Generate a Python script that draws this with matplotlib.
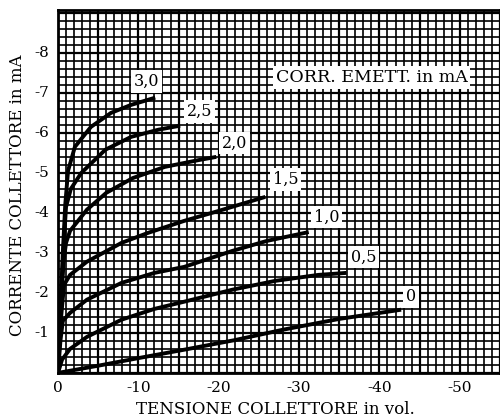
import matplotlib
matplotlib.use("Agg")
import matplotlib.pyplot as plt
from matplotlib.ticker import MultipleLocator

plt.rcParams["font.family"] = ["DejaVu Serif"]

# emitter current (mA) -> collector characteristic (V_ce in V, I_c in mA)
labels = ["3,0", "2,5", "2,0", "1,5", "1,0", "0,5", "0"]
v30 = [0, -0.3, -0.6, -0.9, -1.25, -2.1, -4.1, -6.6, -9.1, -12.1]
i30 = [0, -1.5, -3.0, -4.2, -5.05, -5.65, -6.15, -6.5, -6.7, -6.88]
v25 = [0, -0.4, -0.8, -1.0, -1.6, -2.9, -5.9, -9.1, -12.5, -15.2]
i25 = [0, -2.0, -3.5, -4.15, -4.6, -5.0, -5.58, -5.9, -6.08, -6.18]
v20 = [0, -0.4, -0.7, -1.0, -1.5, -3.6, -6.0, -9.3, -13.3, -17.5, -19.7]
i20 = [0, -1.8, -2.8, -3.25, -3.55, -4.08, -4.5, -4.87, -5.15, -5.32, -5.4]
v15 = [0, -0.3, -0.75, -1.5, -3.6, -7.9, -11.2, -15.7, -20.0, -25.8]
i15 = [0, -1.2, -2.2, -2.45, -2.78, -3.25, -3.5, -3.8, -4.05, -4.4]
v10 = [0, -0.3, -0.6, -1.5, -3.6, -7.9, -12.0, -15.7, -21.7, -26.0, -31.2]
i10 = [0, -0.8, -1.3, -1.5, -1.83, -2.25, -2.5, -2.65, -3.05, -3.3, -3.52]
v05 = [0, -0.5, -1.5, -3.6, -7.9, -12.0, -15.7, -21.7, -27.0, -32.4, -35.9]
i05 = [0, -0.33, -0.6, -0.9, -1.33, -1.6, -1.78, -2.08, -2.3, -2.45, -2.5]
v00 = [0, -5.0, -10.0, -15.7, -22.0, -28.0, -35.0, -42.7]
i00 = [0, -0.18, -0.37, -0.58, -0.82, -1.08, -1.35, -1.58]
# label anchor points (V, mA)
lab_v = [-11.0, -17.6, -22.0, -28.3, -33.4, -38.0, -43.9]
lab_i = [-7.28, -6.53, -5.75, -4.83, -3.9, -2.9, -1.9]

xticks = [0, -10, -20, -30, -40, -50]
yticks = [-1, -2, -3, -4, -5, -6, -7, -8]

fig = plt.figure(figsize=(5.0, 4.19), dpi=100)
ax = fig.add_axes([0.116, 0.11, 0.884, 0.866])
ax.set_xlim(0, -55)
ax.set_ylim(0, -9.07)

ax.xaxis.set_minor_locator(MultipleLocator(1))
ax.yaxis.set_minor_locator(MultipleLocator(0.2))
ax.grid(True, which="minor", color="black", lw=1.2)
ax.xaxis.set_major_locator(MultipleLocator(5))
ax.yaxis.set_major_locator(MultipleLocator(1))
ax.grid(True, which="major", color="black", lw=1.6)
ax.set_axisbelow(True)
ax.tick_params(which="both", length=0)
ax.set_xticklabels([])
ax.set_yticklabels([])
for s in ax.spines.values():
    s.set_linewidth(2)

curves = [(v30, i30), (v25, i25), (v20, i20), (v15, i15), (v10, i10), (v05, i05), (v00, i00)]
for (v, i) in curves:
    ax.plot(v, i, color="black", lw=2.8, solid_capstyle="butt", zorder=3)

for t, x, y in zip(labels, lab_v, lab_i):
    ax.text(x, y, t, fontsize=11.5, ha="center", va="center", zorder=4,
            bbox=dict(facecolor="white", edgecolor="none", pad=2))
ax.text(-39.0, -7.38, "CORR. EMETT. in mA", fontsize=12.5, ha="center", va="center",
        zorder=4, bbox=dict(facecolor="white", edgecolor="none", pad=2))

for x in xticks:
    ax.text(x, 0.38, f"{x}", fontsize=11, ha="center", va="center", clip_on=False)
for y in yticks:
    ax.text(1.1, y, f"{y}", fontsize=11, ha="right", va="center", clip_on=False)

fig.text(0.55, 0.022, "TENSIONE COLLETTORE in vol.", fontsize=12, ha="center", va="center")
fig.text(0.036, 0.535, "CORRENTE COLLETTORE in mA", fontsize=12, ha="center", va="center",
         rotation=90)

fig.savefig("out.png", dpi=100)
